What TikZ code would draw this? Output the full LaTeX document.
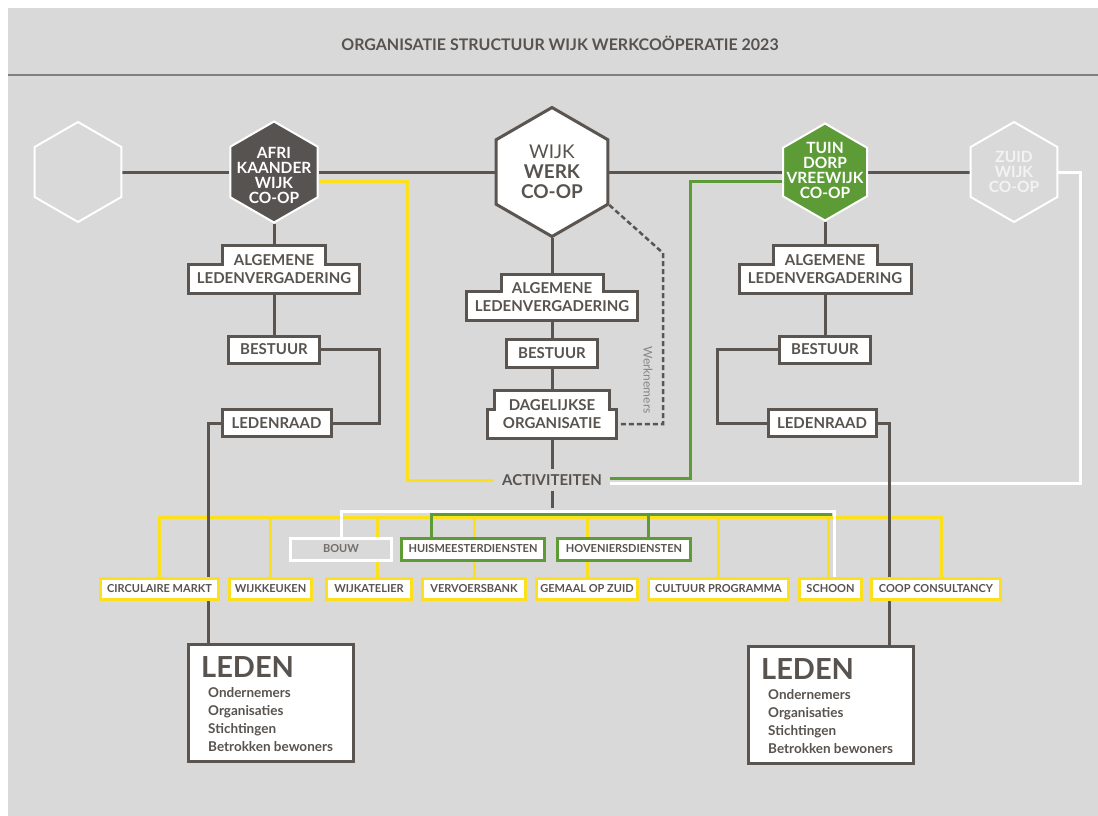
\documentclass[tikz,border=0pt]{standalone}
\usepackage{fontspec}
\setmainfont{Lato}
\usetikzlibrary{shapes.geometric,calc}
\pgfdeclarelayer{bgl}
\pgfdeclarelayer{ln}
\pgfsetlayers{bgl,ln,main}
\definecolor{bg}{HTML}{D9D9D9}
\definecolor{dk}{HTML}{5A5551}
\definecolor{txt}{HTML}{58534F}
\definecolor{yel}{HTML}{FCE01E}
\definecolor{grn}{HTML}{5C9B36}
\definecolor{hexdk}{HTML}{565351}
\definecolor{sepc}{HTML}{808080}
\definecolor{zuidc}{HTML}{F3F3F3}
\definecolor{wngray}{HTML}{858585}
\tikzset{
  hexa/.style={regular polygon, regular polygon sides=6, shape border rotate=30, inner sep=0pt},
  dl/.style={draw=dk, line width=3pt},
  yl/.style={draw=yel, line width=3pt},
  gl/.style={draw=grn, line width=3pt},
  wl/.style={draw=white, line width=3pt},
  obox/.style={draw=dk, line width=3pt, fill=white, inner sep=0pt, minimum height=27pt, text=txt, font=\bfseries\fontsize{15}{15}\selectfont},
  stepline/.style={draw=dk, line width=3pt, fill=white},
  steptext/.style={inner sep=0pt, align=center, text=txt, font=\bfseries\fontsize{15}{18}\selectfont},
  abox/.style={draw=yel, line width=3pt, fill=white, inner sep=0pt, minimum height=21pt, text=txt, font=\bfseries\fontsize{11}{11}\selectfont},
  mbox/.style={line width=3pt, fill=white, inner sep=0pt, minimum height=22pt, text=txt, font=\bfseries\fontsize{11}{11}\selectfont},
  hextext/.style={align=center, text=white, font=\bfseries\fontsize{15.5}{15}\selectfont},
  ledbox/.style={draw=dk, line width=3pt, fill=white, inner sep=0pt, minimum width=165pt, minimum height=117pt},
  ledhead/.style={anchor=base west, inner sep=0pt, text=txt, font=\bfseries\fontsize{29}{29}\selectfont},
  leditem/.style={anchor=base west, inner sep=0pt, text=txt, font=\bfseries\fontsize{13.5}{18}\selectfont},
}
\newcommand\stepnode[8]{%
  \draw[stepline] (#2-#6,#3) -- (#2+#6,#3) -- (#2+#6,#4) -- (#2+#7,#4) -- (#2+#7,#5) -- (#2-#7,#5) -- (#2-#7,#4) -- (#2-#6,#4) -- cycle;
  \node[steptext, minimum width={2*#7}, minimum height={#5-#3}] (#1) at (#2,{(#3+#5)/2}) {#8};}
\begin{document}
\begin{tikzpicture}[x=1pt,y=-1pt]
\useasboundingbox (0,0) rectangle (1098,816);
\begin{pgfonlayer}{bgl}
\fill[white] (0,0) rectangle (1098,816);
\fill[bg] (8,8) rectangle (1110,830);
\draw[sepc, line width=2.5pt] (8,75) -- (1110,75);
\end{pgfonlayer}
\node[text=txt, font=\bfseries\fontsize{16}{16}\selectfont] (title) at (560,43) {ORGANISATIE STRUCTUUR WIJK WERKCOÖPERATIE 2023};

% hexagons
\node[hexa, minimum size=100pt, draw=white, line width=2pt] (hL) at (78,172) {};
\node[hexa, minimum size=101pt, draw=white, fill=hexdk, line width=2pt] (hA) at (274,172) {};
\node[hexa, minimum size=129pt, draw=dk, fill=white, line width=3pt] (hW) at (552,172) {};
\node[hexa, minimum size=97pt, draw=white, fill=grn, line width=2pt] (hT) at (825,172) {};
\node[hexa, minimum size=100pt, draw=white, line width=2pt] (hZ) at (1014,172) {};
\node[hextext] (hAt) at (274,175) {AFRI\\KAANDER\\WIJK\\CO-OP};
\node[align=center, text=txt, font=\fontsize{19}{20}\selectfont] (hWt) at (552,172) {WIJK\\\textbf{WERK}\\\textbf{CO-OP}};
\node[hextext] (hTt) at (825,170) {TUIN\\DORP\\VREEWIJK\\CO-OP};
\node[hextext, text=zuidc] (hZt) at (1014,172) {ZUID\\WIJK\\CO-OP};

% stepped boxes
\stepnode{alvL}{274}{245.5}{264}{293}{51.5}{85.5}{ALGEMENE\\LEDENVERGADERING}
\stepnode{alvC}{552}{274}{291.5}{320}{51}{85.5}{ALGEMENE\\LEDENVERGADERING}
\stepnode{alvR}{825}{245.5}{264}{293}{52}{86}{ALGEMENE\\LEDENVERGADERING}
\stepnode{dago}{552}{390}{409}{438}{57.5}{64.5}{DAGELIJKSE\\ORGANISATIE}

% boxes
\node[obox, minimum width=91pt] (bestL) at (274,349.5) {BESTUUR};
\node[obox, minimum width=109pt] (ledL) at (276.5,423) {LEDENRAAD};
\node[obox, minimum width=91pt, minimum height=28pt] (bestC) at (552,353) {BESTUUR};
\node[obox, minimum width=91pt] (bestR) at (825,349.5) {BESTUUR};
\node[obox, minimum width=108pt] (ledR) at (822,423) {LEDENRAAD};
\node[text=txt, font=\bfseries\fontsize{15}{15}\selectfont, inner xsep=8pt, inner ysep=5pt] (act) at (552,480) {ACTIVITEITEN};
\node[rotate=-90, text=wngray, font=\fontsize{12}{12}\selectfont, inner sep=0pt] (wn) at (648,380) {Werknemers};

% activity boxes
\node[abox, minimum width=118pt] (cm) at (159.5,589) {CIRCULAIRE MARKT};
\node[abox, minimum width=82pt] (wk) at (270.5,589) {WIJKKEUKEN};
\node[abox, minimum width=85pt] (wa) at (369,589) {WIJKATELIER};
\node[abox, minimum width=103pt] (vb) at (474,589) {VERVOERSBANK};
\node[abox, minimum width=101pt] (gz) at (587,589) {GEMAAL OP ZUID};
\node[abox, minimum width=140pt] (cp) at (718.5,589) {CULTUUR PROGRAMMA};
\node[abox, minimum width=62pt] (sc) at (830.5,589) {SCHOON};
\node[abox, minimum width=129pt] (cc) at (936,589) {COOP CONSULTANCY};
\node[mbox, draw=white, fill=bg, minimum width=101pt, text=txt!85!white] (bouw) at (341,549) {BOUW};
\node[mbox, draw=grn, minimum width=143pt] (hm) at (473,549) {HUISMEESTERDIENSTEN};
\node[mbox, draw=grn, minimum width=133pt] (hov) at (624,549) {HOVENIERSDIENSTEN};

% leden
\node[ledbox] (ledenL) at (271,703) {};
\node[ledbox] (ledenR) at (831,705) {};
\node[ledhead] (lhL) at (201,677) {LEDEN};
\node[ledhead] (lhR) at (761,679) {LEDEN};
\foreach \t [count=\i] in {Ondernemers,Organisaties,Stichtingen,Betrokken bewoners}{
  \node[leditem] (liL\i) at (208,{679+18*\i}) {\t};
  \node[leditem] (liR\i) at (768,{681+18*\i}) {\t};
}

% helper coordinates
\coordinate (yb) at (0,517);
\coordinate (gb) at (0,514);
\coordinate (wb) at (0,511);
\coordinate (ccX) at ([xshift=5pt]cc.north);
\coordinate (waX) at ([xshift=8pt]wa.north);
\coordinate (scY) at ([xshift=-2pt]sc.north);
\coordinate (scG) at ([xshift=1.5pt]sc.north);
\coordinate (scW) at ([xshift=4pt]sc.north);
\coordinate (hmX) at ([xshift=-42pt]hm.north);
\coordinate (hovX) at ([xshift=24pt]hov.north);
\coordinate (actE) at (552,508);

\begin{pgfonlayer}{ln}
% coloured routes
\draw[yl] ([yshift=-9pt]hA.east) -| (407,480) -- (act.west);
\draw[gl] ([yshift=-9pt]hT.west) -| (690,478) -- ([yshift=2pt]act.east);
\draw[wl] (hZ.east) -| (1080,483) -- ([yshift=-3pt]act.east);
% activity row
\draw[yl] (cm.north) |- (ccX |- yb) -- (ccX);
\foreach \b in {wk,vb,gz,cp} \draw[yl] (\b.north) -- (\b.north |- yb);
\draw[yl] (waX) -- (waX |- yb);
\draw[yl] (scY) -- (scY |- yb);
\draw[gl] (hmX) |- (scG |- gb);
\draw[gl] (hovX) -- (hovX |- gb);
\draw[wl] (bouw.north) |- (scW |- wb) -- (scW);
% top row
\draw[dl] (hL.east) -- (hA.west);
\draw[dl] (hA.east) -- (hW.west);
\draw[dl] (hW.east) -- (hT.west);
\draw[dl] (hT.east) -- (hZ.west);
\draw[draw=dk, line width=2.5pt, dash pattern=on 5pt off 3pt] (hW.-30) -- (663,253) -- (663,424) -- ([yshift=-10pt]dago.east);
% left column
\draw[dl] (hA.south) -- (alvL.north);
\draw[dl] (alvL.south) -- (bestL.north);
\draw[dl] (bestL.east) -| (379,423) -- (ledL.east);
\draw[dl] (ledL.west) -| ([xshift=-63pt]ledenL.north);
% centre column
\draw[dl] (hW.south) -- (alvC.north);
\draw[dl] (alvC.south) -- (bestC.north);
\draw[dl] (bestC.south) -- (dago.north);
\draw[dl] (dago.south) -- (act.north);
\draw[dl] (act.south) -- (actE);
% right column
\draw[dl] (hT.south) -- (alvR.north);
\draw[dl] (alvR.south) -- (bestR.north);
\draw[dl] (bestR.west) -| (717,423) -- (ledR.west);
\draw[dl] (ledR.east) -| ([xshift=58pt]ledenR.north);
\end{pgfonlayer}
\end{tikzpicture}
\end{document}
